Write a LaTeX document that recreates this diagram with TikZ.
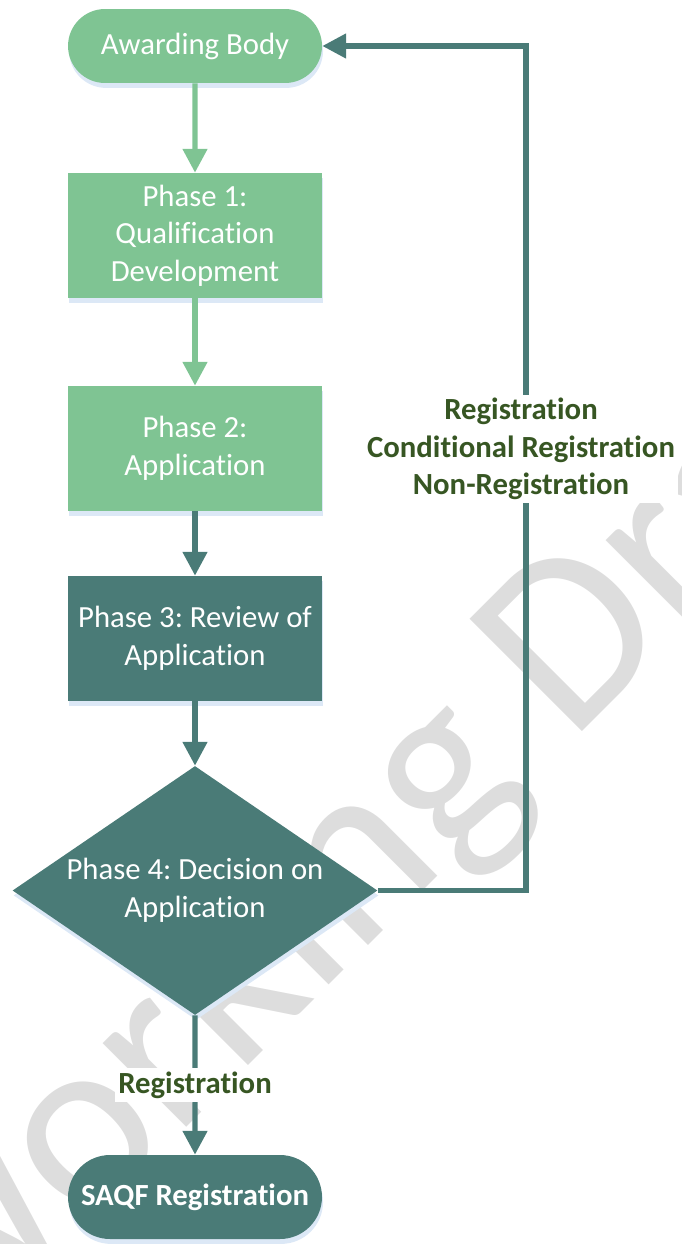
\documentclass[tikz,border=0pt]{standalone}
\usepackage{fontspec}
\setmainfont{Carlito}[Ligatures=NoCommon]
\frenchspacing
\usetikzlibrary{arrows.meta,shapes.geometric,shapes.misc,shadows}
\definecolor{lightgreen}{RGB}{127,196,147}
\definecolor{darkteal}{RGB}{74,123,119}
\definecolor{labelgreen}{RGB}{55,86,35}
\definecolor{shadowblue}{RGB}{220,232,246}
\definecolor{markgray}{RGB}{221,221,221}

\begin{document}
\begin{tikzpicture}[x=0.02cm, y=-0.02cm,
  every node/.style={font=\fontsize{17.5}{21.3}\selectfont, align=center, text=white},
  lowshadow/.style={drop shadow={shadow xshift=0.6pt, shadow yshift=-2.8pt, fill=shadowblue, opacity=1}},
  termbox/.style={rounded rectangle, minimum width=5.08cm, minimum height=1.48cm, inner sep=0pt, lowshadow},
  phasebox/.style={rectangle, minimum width=5.08cm, minimum height=2.5cm, inner sep=0pt, lowshadow},
  flowgreen/.style={draw=lightgreen, line width=2.9pt, -{Triangle[width=13.6pt,length=13.6pt]}},
  flowteal/.style={draw=darkteal, line width=2.9pt, -{Triangle[width=13.6pt,length=13.6pt]}},
  lbl/.style={fill=white, text=labelgreen, inner sep=2pt, font=\fontsize{17.5}{21.3}\selectfont\bfseries},
  watermark/.style={rotate=45, anchor=base, text=markgray, font=\fontsize{141}{143}\selectfont}]

\useasboundingbox (0,0) rectangle (682,1244);

\begin{scope}
\clip (0,0) rectangle (682,1244);
\node[watermark] (wm) at (433,881) {Working Draft};
\end{scope}

\node[termbox, fill=lightgreen] (ab) at (195,46) {Awarding Body};
\node[phasebox, fill=lightgreen] (p1) at (195,235.5) {Phase 1:\\Qualification\\Development};
\node[phasebox, fill=lightgreen] (p2) at (195,448.5) {Phase 2:\\Application};
\node[phasebox, fill=darkteal] (p3) at (195,638.5) {Phase 3: Review of\\Application};
\node[diamond, aspect=1.46, inner sep=0pt, minimum width=7.3cm, minimum height=4.98cm, fill=darkteal, lowshadow] (p4) at (195,890.5) {Phase 4: Decision on\\Application};
\node[termbox, fill=darkteal, minimum height=1.68cm, font=\fontsize{17.5}{21.3}\selectfont\bfseries] (saqf) at (195,1197) {SAQF Registration};

\draw[flowgreen] (ab) -- (p1);
\draw[flowgreen] (p1) -- (p2);
\draw[flowteal] (p2) -- (p3);
\draw[flowteal] (p3) -- (p4);
\draw[flowteal] (p4) -- node[lbl] (reglbl) {Registration} (saqf);

\coordinate (turn) at (526,46);
\draw[flowteal] (p4.east) -| (turn) -- (ab.east);
\node[lbl] (backlbl) at (521,449) {Registration\\Conditional Registration\\Non-Registration};
\end{tikzpicture}
\end{document}
